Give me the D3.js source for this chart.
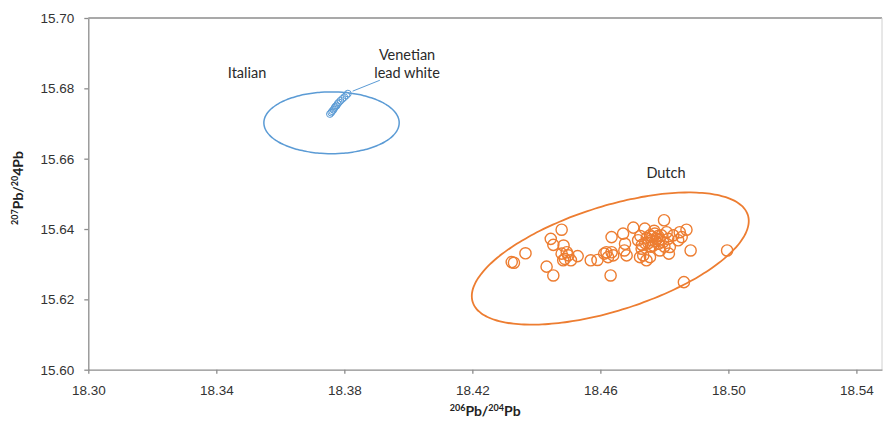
<!DOCTYPE html>
<html lang="en">
<head>
<meta charset="UTF-8">
<title>Lead isotope ratios</title>
<script src="https://cdnjs.cloudflare.com/ajax/libs/d3/7.8.5/d3.min.js"></script>
<style>
  body { margin: 0; background: #fff; }
  svg { font-family: Lato, "Open Sans", sans-serif; }
  .tick text { font-size: 13.5px; fill: #333; }
  .domain, .tick line { stroke: #8c8c8c; stroke-width: 1.3px; }
  .label { font-size: 14.5px; fill: #2a2a2a; }
  .axis-title { font-size: 14px; font-weight: bold; fill: #222; }
</style>
</head>
<body>
<div id="chart"></div>
<script>
// canvas
const width = 883, height = 424;
const margin = {top: 18, right: 1, bottom: 54.3, left: 88.3};

// axes
const xDomain = [18.30, 18.548];
const yDomain = [15.60, 15.70];
const xTicks = [18.30, 18.34, 18.38, 18.42, 18.46, 18.50, 18.54];
const yTicks = [15.60, 15.62, 15.64, 15.66, 15.68, 15.70];

// Venetian lead white (Italian)
const italianX = [18.3755, 18.3759, 18.3762, 18.3766, 18.3769, 18.3772, 18.3776, 18.3779,
                  18.3783, 18.3788, 18.3794, 18.3800, 18.3806, 18.3811];
const italianY = [15.6727, 15.6731, 15.6735, 15.6739, 15.6744, 15.6748, 15.6751, 15.6756,
                  15.6760, 15.6765, 15.6770, 15.6775, 15.6780, 15.6785];

// Dutch
const dutchX = [18.4323, 18.4330, 18.4366, 18.4432, 18.4453, 18.4445, 18.4453, 18.4479,
                18.4485, 18.4479, 18.4489, 18.4500, 18.4484, 18.4508, 18.4495, 18.4529,
                18.4570, 18.4591, 18.4612, 18.4619, 18.4624, 18.4635, 18.4640, 18.4635,
                18.4632, 18.4671, 18.4677, 18.4675, 18.4682, 18.4703, 18.4718, 18.4729,
                18.4724, 18.4734, 18.4744, 18.4755, 18.4739, 18.4755, 18.4760, 18.4765,
                18.4770, 18.4776, 18.4781, 18.4786, 18.4791, 18.4796, 18.4799, 18.4807,
                18.4812, 18.4817, 18.4814, 18.4828, 18.4843, 18.4848, 18.4854, 18.4869,
                18.4882, 18.4861, 18.4996, 18.4745, 18.4750, 18.4762, 18.4772, 18.4780,
                18.4758, 18.4768, 18.4740, 18.4785, 18.4730, 18.4725, 18.4800];
const dutchY = [15.6306, 15.6304, 15.6331, 15.6293, 15.6268, 15.6372, 15.6355, 15.6398,
                15.6353, 15.6330, 15.6315, 15.6325, 15.6311, 15.6311, 15.6334, 15.6323,
                15.6311, 15.6312, 15.6330, 15.6334, 15.6320, 15.6334, 15.6325, 15.6377,
                15.6268, 15.6387, 15.6358, 15.6339, 15.6325, 15.6404, 15.6368, 15.6344,
                15.6320, 15.6325, 15.6311, 15.6320, 15.6401, 15.6382, 15.6368, 15.6353,
                15.6387, 15.6372, 15.6358, 15.6339, 15.6382, 15.6363, 15.6425, 15.6391,
                15.6372, 15.6349, 15.6330, 15.6382, 15.6368, 15.6391, 15.6377, 15.6398,
                15.6339, 15.6249, 15.6339, 15.6375, 15.6360, 15.6378, 15.6366, 15.6380,
                15.6350, 15.6395, 15.6360, 15.6370, 15.6355, 15.6380, 15.6350];

// group ellipses: centre and two conjugate semi-axes, in data units
const ellipseGroups = ["Italian", "Dutch"];
const ellipseCentre = [[18.3760, 15.6702], [18.4631, 15.6316]];
const ellipseAxisA = [[0.02114, 0], [0.04299, 0.01236]];
const ellipseAxisB = [[0, 0.00878], [0.004895, -0.01416]];

// text annotations (data coordinates)
const labelText = ["Italian", "Dutch"];
const labelPos = [[18.3496, 15.6843], [18.4805, 15.6559]];
const venetianLines = ["Venetian", "lead white"];
const venetianPos = [18.3996, 15.6895];
const leaderLine = [[18.3826, 15.6792], [18.3911, 15.6823]];

const colours = {Italian: "#5b9bd5", Dutch: "#ed7d31"};

const svg = d3.select("#chart").append("svg")
    .attr("width", width)
    .attr("height", height);

const x = d3.scaleLinear().domain(xDomain).range([margin.left, width - margin.right]);
const y = d3.scaleLinear().domain(yDomain).range([height - margin.bottom, margin.top]);

// top and right frame
svg.append("line")
    .attr("x1", x(xDomain[0])).attr("x2", x(xDomain[1]))
    .attr("y1", y(yDomain[1])).attr("y2", y(yDomain[1]))
    .attr("stroke", "#8c8c8c").attr("stroke-width", 1.3);
svg.append("line")
    .attr("x1", x(xDomain[1])).attr("x2", x(xDomain[1]))
    .attr("y1", y(yDomain[1])).attr("y2", y(yDomain[0]))
    .attr("stroke", "#d0d0d0").attr("stroke-width", 1);

// axes
svg.append("g")
    .attr("transform", `translate(0,${y(yDomain[0])})`)
    .call(d3.axisBottom(x).tickValues(xTicks).tickFormat(d3.format(".2f"))
        .tickSize(4).tickSizeOuter(0).tickPadding(12));

svg.append("g")
    .attr("transform", `translate(${x(xDomain[0])},0)`)
    .call(d3.axisLeft(y).tickValues(yTicks).tickFormat(d3.format(".2f"))
        .tickSize(4).tickSizeOuter(0).tickPadding(10));

// axis titles with superscripts
const xTitle = svg.append("text").attr("class", "axis-title")
    .attr("x", (margin.left + width - margin.right) / 2)
    .attr("y", 416)
    .attr("text-anchor", "middle");
xTitle.append("tspan").attr("font-size", "9px").attr("dy", "-5").text("206");
xTitle.append("tspan").attr("dy", "5").text("Pb/");
xTitle.append("tspan").attr("font-size", "9px").attr("dy", "-5").text("204");
xTitle.append("tspan").attr("dy", "5").text("Pb");

const yTitle = svg.append("text").attr("class", "axis-title")
    .attr("transform", `translate(23,188) rotate(-90)`)
    .attr("text-anchor", "middle");
yTitle.append("tspan").attr("font-size", "9px").attr("dy", "-5").text("207");
yTitle.append("tspan").attr("dy", "5").text("Pb/");
yTitle.append("tspan").attr("font-size", "9px").attr("dy", "-5").text("20");
yTitle.append("tspan").attr("dy", "5").text("4Pb");

// ellipses
const steps = d3.range(0, 120).map(i => i / 120 * 2 * Math.PI);
const ellipseLine = d3.line().curve(d3.curveCardinalClosed);
ellipseGroups.forEach((g, i) => {
    const [cx, cy] = ellipseCentre[i];
    const [ax, ay] = ellipseAxisA[i];
    const [bx, by] = ellipseAxisB[i];
    const pts = steps.map(t => [
        x(cx + ax * Math.cos(t) + bx * Math.sin(t)),
        y(cy + ay * Math.cos(t) + by * Math.sin(t))
    ]);
    svg.append("path")
        .attr("d", ellipseLine(pts))
        .attr("fill", "none")
        .attr("stroke", colours[g])
        .attr("stroke-width", g === "Dutch" ? 1.8 : 1.5);
});

// points
svg.append("g").selectAll("circle")
    .data(italianX.map((d, i) => [d, italianY[i]]))
    .join("circle")
    .attr("cx", d => x(d[0]))
    .attr("cy", d => y(d[1]))
    .attr("r", 3.4)
    .attr("fill", "none")
    .attr("stroke", colours.Italian)
    .attr("stroke-width", 1);

svg.append("g").selectAll("circle")
    .data(dutchX.map((d, i) => [d, dutchY[i]]))
    .join("circle")
    .attr("cx", d => x(d[0]))
    .attr("cy", d => y(d[1]))
    .attr("r", 5.6)
    .attr("fill", "none")
    .attr("stroke", colours.Dutch)
    .attr("stroke-width", 1.4);

// annotations
labelText.forEach((t, i) => {
    svg.append("text").attr("class", "label")
        .attr("x", x(labelPos[i][0]))
        .attr("y", y(labelPos[i][1]))
        .attr("text-anchor", "middle")
        .attr("dy", "0.35em")
        .text(t);
});

const ven = svg.append("text").attr("class", "label")
    .attr("x", x(venetianPos[0]))
    .attr("y", y(venetianPos[1]))
    .attr("text-anchor", "middle")
    .attr("dy", "0.35em");
venetianLines.forEach((t, i) => {
    ven.append("tspan")
        .attr("x", x(venetianPos[0]))
        .attr("dy", i === 0 ? "0.35em" : "18")
        .text(t);
});

svg.append("line")
    .attr("x1", x(leaderLine[0][0])).attr("y1", y(leaderLine[0][1]))
    .attr("x2", x(leaderLine[1][0])).attr("y2", y(leaderLine[1][1]))
    .attr("stroke", colours.Italian)
    .attr("stroke-width", 1);
</script>
</body>
</html>
